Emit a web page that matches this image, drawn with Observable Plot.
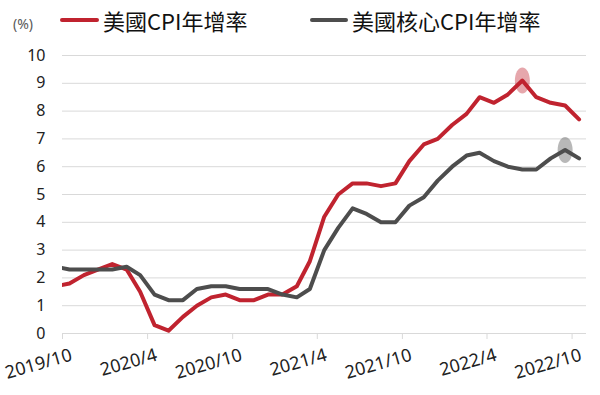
<!DOCTYPE html>
<html><head><meta charset="utf-8">
<script src="https://cdn.jsdelivr.net/npm/d3@7"></script>
<script src="https://cdn.jsdelivr.net/npm/@observablehq/plot@0.6"></script>
<style>
body{margin:0;background:#fff;}
#wrap{width:600px;height:395px;position:relative;overflow:hidden;font-family:"Noto Sans CJK TC","Noto Sans",sans-serif;background:#fff;}
#head{position:relative;height:40px;}
#head .unit{position:absolute;left:13px;top:24px;transform:translateY(-50%);font-size:14px;line-height:1;color:#595959;font-family:"Noto Sans","Noto Sans CJK TC",sans-serif;}
#head .sw{position:absolute;top:18px;height:4px;border-radius:2px;}
#head .lt{position:absolute;top:20px;transform:translateY(-50%);font-size:22px;line-height:1;color:#111;white-space:nowrap;}
#chart svg{display:block;}
</style></head><body>
<div id="wrap">
  <div id="head">
    <span class="unit">(%)</span>
    <span class="sw" id="sw1" style="left:60px;width:39px;"></span>
    <span class="lt" id="lt1" style="left:103px;"></span>
    <span class="sw" id="sw2" style="left:310px;width:38px;"></span>
    <span class="lt" id="lt2" style="left:352px;"></span>
  </div>
  <div id="chart"></div>
</div>
<script>
// ---- data ----
const months = ["2019/09","2019/10","2019/11","2019/12","2020/01","2020/02","2020/03","2020/04","2020/05","2020/06","2020/07","2020/08","2020/09","2020/10","2020/11","2020/12","2021/01","2021/02","2021/03","2021/04","2021/05","2021/06","2021/07","2021/08","2021/09","2021/10","2021/11","2021/12","2022/01","2022/02","2022/03","2022/04","2022/05","2022/06","2022/07","2022/08","2022/09","2022/10"];
const cpi  = [1.7,1.8,2.1,2.3,2.5,2.3,1.5,0.3,0.1,0.6,1.0,1.3,1.4,1.2,1.2,1.4,1.4,1.7,2.6,4.2,5.0,5.4,5.4,5.3,5.4,6.2,6.8,7.0,7.5,7.9,8.5,8.3,8.6,9.1,8.5,8.3,8.2,7.7];
const core = [2.4,2.3,2.3,2.3,2.3,2.4,2.1,1.4,1.2,1.2,1.6,1.7,1.7,1.6,1.6,1.6,1.4,1.3,1.6,3.0,3.8,4.5,4.3,4.0,4.0,4.6,4.9,5.5,6.0,6.4,6.5,6.2,6.0,5.9,5.9,6.3,6.6,6.3];
const seriesNames = ["美國CPI年增率","美國核心CPI年增率"];
const seriesColors = ["#c0232f","#4d4d4d"];
const highlightMonths = ["2022/06","2022/09"]; // CPI peak, core peak
const xTickLabels = ["2019/10","2020/4","2020/10","2021/4","2021/10","2022/4","2022/10"];
const xDomainLabels = ["2019/10","2022/11"];
const yTicks = [0,1,2,3,4,5,6,7,8,9,10];

// ---- helpers ----
const monthStart = s => { const [y,m] = s.split("/").map(Number); return new Date(Date.UTC(y, m-1, 1)); };
const monthMid = s => { const [y,m] = s.split("/").map(Number); return new Date(Date.UTC(y, m-1, 16)); };

const rows = months.map((m,i) => ({date: monthMid(m), cpi: cpi[i], core: core[i]}));
const hiRows = [
  {date: monthMid(highlightMonths[0]), value: cpi[months.indexOf(highlightMonths[0])], color: seriesColors[0]},
  {date: monthMid(highlightMonths[1]), value: core[months.indexOf(highlightMonths[1])], color: seriesColors[1]}
];
const tickDates = xTickLabels.map(monthStart);
const labelMap = new Map(tickDates.map((d,i) => [+d, xTickLabels[i]]));

// legend
document.getElementById("sw1").style.background = seriesColors[0];
document.getElementById("sw2").style.background = seriesColors[1];
document.getElementById("lt1").textContent = seriesNames[0];
document.getElementById("lt2").textContent = seriesNames[1];

const ellipse = {
  draw(ctx) {
    const rx = 7.5, ry = 13, k = 0.5523;
    ctx.moveTo(rx, 0);
    ctx.bezierCurveTo(rx, ry*k, rx*k, ry, 0, ry);
    ctx.bezierCurveTo(-rx*k, ry, -rx, ry*k, -rx, 0);
    ctx.bezierCurveTo(-rx, -ry*k, -rx*k, -ry, 0, -ry);
    ctx.bezierCurveTo(rx*k, -ry, rx, -ry*k, rx, 0);
    ctx.closePath();
  }
};

const chart = Plot.plot({
  width: 600, height: 355,
  marginTop: 15, marginBottom: 62, marginLeft: 62, marginRight: 14,
  style: {fontFamily: '"Noto Sans","Noto Sans CJK TC",sans-serif', fontSize: "16px", color: "#222", background: "#fff"},
  x: {type: "utc", domain: xDomainLabels.map(monthStart)},
  y: {domain: [0, 10]},
  marks: [
    Plot.gridY(yTicks, {stroke: "#d9d9d9", strokeOpacity: 1, strokeWidth: 1}),
    Plot.axisY(yTicks, {tickSize: 0, tickPadding: 17, fontSize: 16, fill: "#222", tickFormat: d => String(d)}),
    Plot.axisX(tickDates, {tickSize: 6, stroke: "#d9d9d9", strokeOpacity: 1, fill: "none", tickFormat: d => labelMap.get(+d)}),
    Plot.axisX(tickDates, {tickSize: 0, stroke: null, fill: "#222", fontSize: 18,
      tickFormat: d => labelMap.get(+d), tickRotate: -16, textAnchor: "end", tickPadding: 6, dx: 9, dy: 15}),
    Plot.dot(hiRows, {x: "date", y: "value", fill: "color", fillOpacity: 0.4, stroke: null, symbol: ellipse, r: 8}),
    Plot.line(rows, {x: "date", y: "cpi", stroke: seriesColors[0], strokeWidth: 4, clip: true}),
    Plot.line(rows, {x: "date", y: "core", stroke: seriesColors[1], strokeWidth: 4, clip: true})
  ]
});
document.getElementById("chart").appendChild(chart);
</script>
</body></html>
